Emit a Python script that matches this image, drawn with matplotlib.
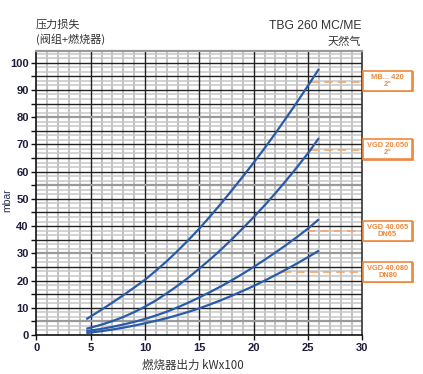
import numpy as np
import matplotlib.pyplot as plt
from matplotlib.patches import Rectangle

plt.rcParams['font.family'] = ['Liberation Sans', 'Noto Sans CJK SC', 'DejaVu Sans']

W, H = 423, 374

# burner output (kW x 100) and pressure loss (mbar)
x_pts = [4.6, 5, 6, 7, 8, 9, 10, 11, 12, 13, 14, 15, 16, 17, 18, 19, 20,
         21, 22, 23, 24, 25, 26]
mb_420 = [5.8, 6.8, 9.3, 11.9, 14.6, 17.4, 20.3, 23.6, 27.1, 30.9, 34.9, 39.1,
          43.6, 48.3, 53.2, 58.2, 63.3, 68.6, 74.1, 79.8, 85.6, 91.6, 97.7]
vgd_20050 = [2.3, 2.7, 3.8, 5.1, 6.6, 8.4, 10.4, 12.7, 15.3, 18.1, 21.1, 24.4,
             27.8, 31.4, 35.2, 39.2, 43.3, 47.6, 52.1, 56.8, 61.7, 66.8, 72.3]
vgd_40065 = [1.4, 1.65, 2.25, 3.0, 3.85, 4.8, 5.9, 7.15, 8.55, 10.15, 11.9, 13.8,
             15.8, 17.9, 20.15, 22.5, 25.0, 27.6, 30.3, 33.1, 36.05, 39.1, 42.5]
vgd_40080 = [0.7, 0.9, 1.4, 2.0, 2.7, 3.45, 4.3, 5.2, 6.2, 7.3, 8.5, 9.8,
             11.25, 12.8, 14.45, 16.2, 18.0, 19.95, 22.0, 24.1, 26.3, 28.6, 31.0]

box_labels = ['MB... 420\n2"', 'VGD 20.050\n2"', 'VGD 40.065\nDN65', 'VGD 40.080\nDN80']
ref_levels = [93.0, 67.8, 38.2, 23.1]
ref_start = [25.3, 25.3, 24.9, 22.7]

x_ticks = [0, 5, 10, 15, 20, 25, 30]
y_ticks = [0, 10, 20, 30, 40, 50, 60, 70, 80, 90, 100]


def px(x, y):
    return x / W, 1 - y / H


fig = plt.figure(figsize=(W / 100, H / 100), dpi=100)
ax = fig.add_axes([36.3 / W, 1 - 335 / H, 326.1 / W, 284 / H])
ax.set_xlim(0, 30)
ax.set_ylim(0, 104.3)

# grid paper
for xv in range(1, 30):
    if xv % 5 == 0:
        ax.axvline(xv, color='#222222', lw=1.0, zorder=1)
    else:
        ax.axvline(xv, color='#bdbdbd', lw=1.3, zorder=0)
for yv in np.arange(5 / 3, 104, 5 / 3):
    r = round(yv / 5 * 3)
    if r % 3 == 0:
        k = r // 3 * 5
        if (k - 5) % 25 == 0:
            ax.axhline(yv, color='#9a9a9a', lw=1.6, zorder=1)
        else:
            ax.axhline(yv, color='#222222', lw=1.0, zorder=1)
    else:
        ax.axhline(yv, color='#c6c6c6', lw=1.1, zorder=0)

blue = '#2a5ba8'
for ys in [mb_420, vgd_20050, vgd_40065, vgd_40080]:
    ax.plot(x_pts, ys, color=blue, lw=1.6, zorder=3, solid_capstyle='butt')

orange = '#f0883a'
for lvl, xs in zip(ref_levels, ref_start):
    ax.plot([xs, 30.1], [lvl, lvl], color='#f5a46a', lw=1.2, dashes=(5, 3),
            zorder=2, clip_on=False)

# valve boxes on the right
box_y = [71, 139.5, 221, 262]
for lab, yt in zip(box_labels, box_y):
    x0, y0 = px(363, yt + 19.5)
    fig.add_artist(Rectangle((x0 + 0.8 / W, y0 - 0.8 / H), 49 / W, 19.5 / H,
                             transform=fig.transFigure, facecolor='none',
                             edgecolor='#e8844a', lw=1.2))
    fig.add_artist(Rectangle((x0, y0), 49 / W, 19.5 / H,
                             transform=fig.transFigure, facecolor='white',
                             edgecolor=orange, lw=1.2))
    cx, cy = px(387.5, yt + 9.8)
    fig.text(cx, cy, lab, ha='center', va='center', fontsize=5.4,
             fontweight='bold', color=orange, linespacing=0.95)

for s in ['left', 'bottom']:
    ax.spines[s].set_color('#111111')
    ax.spines[s].set_linewidth(1.2)
ax.spines['top'].set_color('#9a9a9a')
ax.spines['top'].set_linewidth(1.6)
ax.spines['right'].set_color('#333333')
ax.spines['right'].set_linewidth(1.2)

ax.set_xticks(x_ticks)
ax.set_yticks(y_ticks)
ax.set_yticks(np.arange(5, 104, 10), minor=True)
ax.tick_params(axis='both', which='both', direction='out', length=3.5,
               width=1.0, color='#111111', labelsize=8, labelcolor='#1d1d3b', pad=2)
for lbl in ax.get_xticklabels() + ax.get_yticklabels():
    lbl.set_fontweight('bold')

cjk = ['Noto Sans CJK SC', 'DejaVu Sans']
fig.text(*px(7, 200), 'mbar', rotation=90, ha='center', va='center',
         fontsize=7.5, color='#2a3050')
fig.text(*px(193, 365), '燃烧器出力 kWx100', ha='center', va='center',
         fontsize=8.3, color='#333333', family=cjk)
fig.text(*px(36, 25), '压力损失', ha='left', va='center', fontsize=8,
         color='#333333', family=cjk)
fig.text(*px(36, 39), '(阀组+燃烧器)', ha='left', va='center', fontsize=8,
         color='#333333', family=cjk)
fig.text(*px(361, 26), 'TBG 260 MC/ME', ha='right', va='center', fontsize=8.7,
         color='#333333')
fig.text(*px(361, 42), '天然气', ha='right', va='center', fontsize=8,
         color='#333333', family=cjk)

fig.savefig('out.png', dpi=100)
